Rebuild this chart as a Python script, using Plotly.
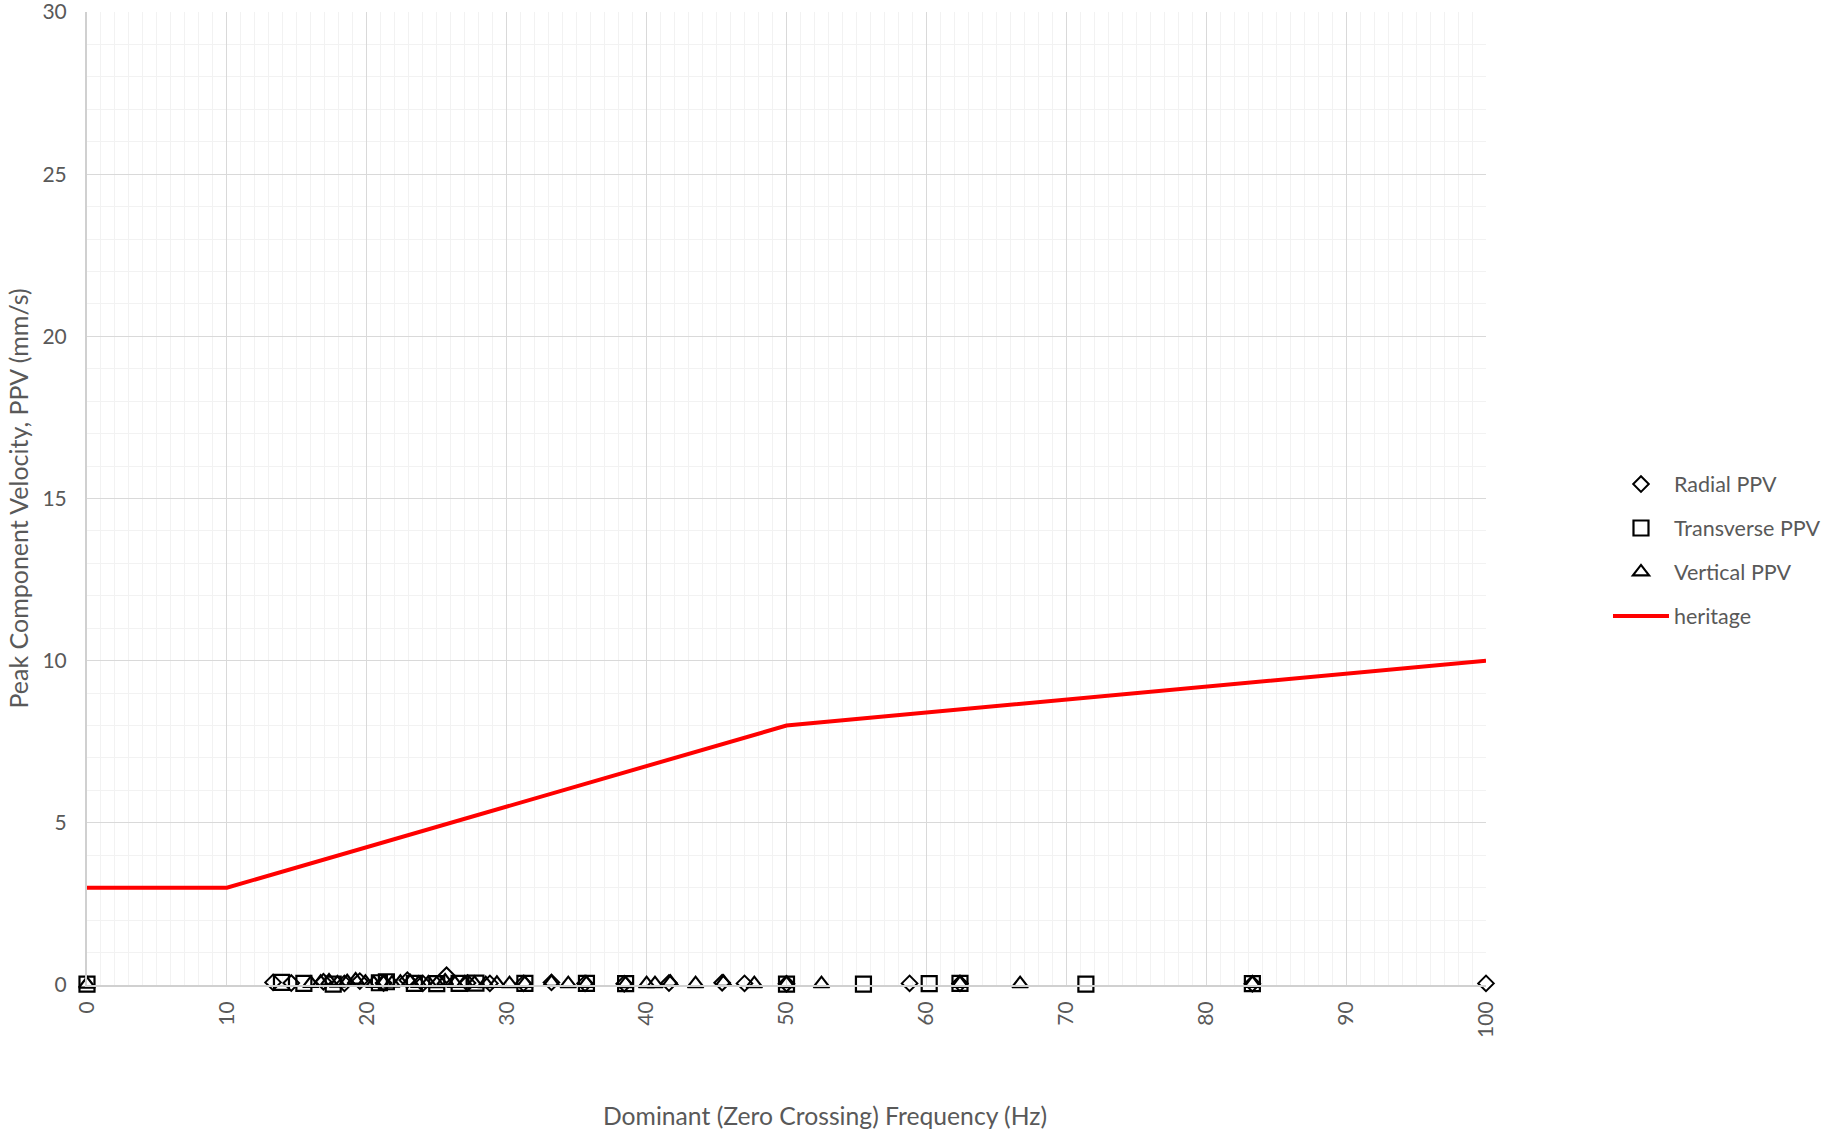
import plotly.graph_objects as go

# ---- data ----
radial_x = [13.3, 14.6, 16.9, 18.4, 19.5, 21.2, 22.9, 24.0, 25.7, 27.2, 28.8,
            31.2, 33.2, 35.6, 38.4, 41.6, 45.4, 47.0, 50.0, 58.8, 62.4, 83.3, 100.0]
radial_y = [0.08, 0.06, 0.1, 0.05, 0.12, 0.06, 0.15, 0.05, 0.3, 0.06, 0.05,
            0.05, 0.08, 0.05, 0.04, 0.06, 0.07, 0.05, 0.04, 0.05, 0.05, 0.04, 0.05]

transverse_x = [0.0, 13.9, 15.5, 17.6, 20.9, 21.4, 23.4, 25.0, 26.6, 27.8, 31.3,
                35.7, 38.5, 50.0, 55.5, 60.2, 62.4, 71.4, 83.3]
transverse_y = [0.03, 0.08, 0.05, 0.03, 0.07, 0.1, 0.05, 0.04, 0.05, 0.06, 0.05,
                0.05, 0.04, 0.03, 0.03, 0.04, 0.05, 0.03, 0.04]

vertical_x = [0.0, 16.0, 16.7, 17.3, 17.9, 18.6, 19.2, 19.9, 20.5, 21.2, 21.8,
              22.4, 23.1, 23.7, 24.4, 25.0, 25.6, 26.3, 27.0, 27.7, 28.5, 29.3,
              30.2, 31.3, 33.2, 34.4, 35.7, 38.5, 40.0, 40.6, 41.7, 43.5, 45.5,
              47.7, 50.0, 52.5, 62.4, 66.7, 83.3]
vertical_y = [0.03, 0.05, 0.08, 0.12, 0.06, 0.1, 0.15, 0.08, 0.05, 0.07, 0.06,
              0.08, 0.1, 0.05, 0.06, 0.04, 0.12, 0.05, 0.06, 0.05, 0.04, 0.05,
              0.04, 0.05, 0.08, 0.04, 0.05, 0.04, 0.04, 0.04, 0.08, 0.04, 0.08,
              0.04, 0.04, 0.04, 0.05, 0.04, 0.05]

heritage_x = [0, 10, 50, 100]
heritage_y = [3, 3, 8, 10]

x_ticks = [0, 10, 20, 30, 40, 50, 60, 70, 80, 90, 100]
y_ticks = [0, 5, 10, 15, 20, 25, 30]

FONT = "Lato"
TXT = "#595959"

fig = go.Figure()
fig.add_trace(go.Scatter(
    x=radial_x, y=radial_y, mode="markers", name="Radial PPV", legendgroup="a",
    cliponaxis=False,
    marker=dict(symbol="diamond-open", size=12, color="black", line=dict(width=2))))
fig.add_trace(go.Scatter(
    x=transverse_x, y=transverse_y, mode="markers", name="Transverse PPV", legendgroup="b",
    cliponaxis=False,
    marker=dict(symbol="square-open", size=15, color="black", line=dict(width=2.2))))
fig.add_trace(go.Scatter(
    x=vertical_x, y=vertical_y, mode="markers", name="Vertical PPV", legendgroup="c",
    cliponaxis=False,
    marker=dict(symbol="triangle-up-open", size=14, color="black", line=dict(width=2.2))))
fig.add_trace(go.Scatter(
    x=heritage_x, y=heritage_y, mode="lines", name="heritage", legendgroup="d",
    cliponaxis=False,
    line=dict(color="#ff0000", width=4)))

fig.update_layout(
    width=1824, height=1133, autosize=False,
    margin=dict(l=87, r=338, t=12, b=148, autoexpand=False),
    paper_bgcolor="white", plot_bgcolor="white",
    font=dict(family=FONT, size=21, color=TXT),
    legend=dict(x=1.0872, xanchor="left", y=0.447, yanchor="middle",
                font=dict(family=FONT, size=21.5, color=TXT), itemwidth=56,
                tracegroupgap=13, traceorder="grouped", bgcolor="rgba(0,0,0,0)"),
    xaxis=dict(range=[0, 100], tickvals=x_ticks, ticktext=[str(v) for v in x_ticks],
               tickangle=-90, showgrid=True, gridcolor="#d9d9d9", gridwidth=1,
               minor=dict(dtick=1, showgrid=True, gridcolor="#f2f2f2", gridwidth=1),
               showline=True, linecolor="#d0d0d0", linewidth=2, zeroline=False,
               ticks="", ticklabelstandoff=6, automargin=False,
               ticklabeloverflow="allow",
               tickfont=dict(family=FONT, size=21, color=TXT)),
    yaxis=dict(range=[0, 30], tickvals=y_ticks, ticktext=[str(v) for v in y_ticks],
               showgrid=True, gridcolor="#d9d9d9", gridwidth=1,
               minor=dict(dtick=1, showgrid=True, gridcolor="#f2f2f2", gridwidth=1),
               showline=True, linecolor="#d0d0d0", linewidth=2, zeroline=False,
               ticks="", ticklabelstandoff=14, automargin=False,
               ticklabeloverflow="allow",
               tickfont=dict(family=FONT, size=21, color=TXT)),
    annotations=[
        dict(text="Dominant (Zero Crossing) Frequency (Hz)", xref="paper", yref="paper",
             x=0.5275, y=-0.134, xanchor="center", yanchor="middle", showarrow=False,
             font=dict(family=FONT, size=24.7, color=TXT)),
        dict(text="Peak Component Velocity, PPV (mm/s)", xref="paper", yref="paper",
             x=-0.05, y=0.5, xanchor="center", yanchor="middle", showarrow=False,
             textangle=-90, font=dict(family=FONT, size=25, color=TXT)),
    ],
)

fig.write_html(
    "out.html",
    config={"displayModeBar": False},
    post_script="document.body.style.margin='0';document.body.style.padding='0';",
)
